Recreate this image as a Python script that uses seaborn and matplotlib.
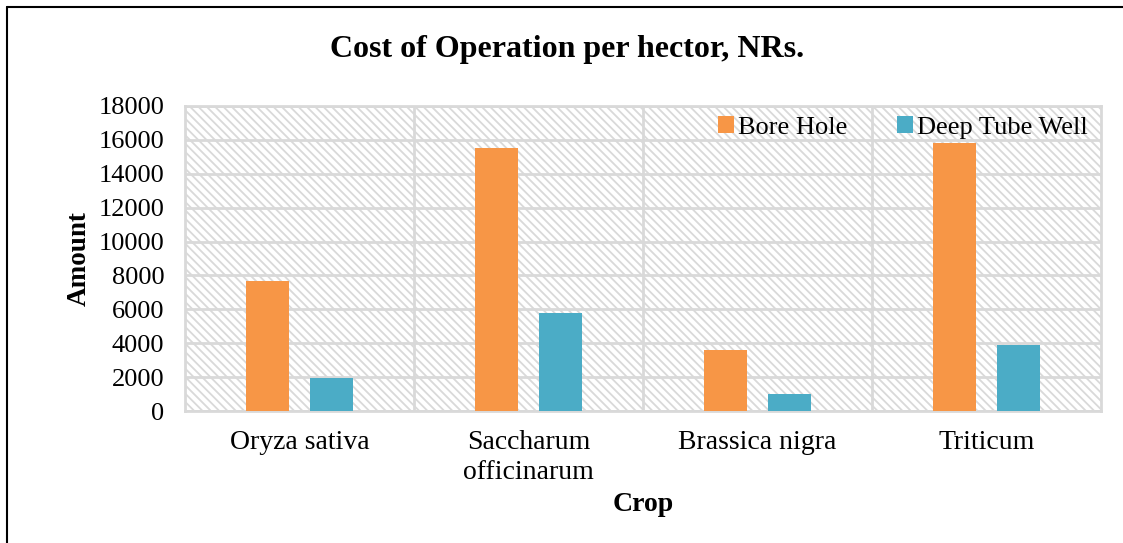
import matplotlib
matplotlib.use("Agg")
import matplotlib.pyplot as plt
import seaborn as sns
import pandas as pd
from matplotlib.patches import Rectangle
from matplotlib.lines import Line2D

crops = ["Oryza sativa", "Saccharum\nofficinarum", "Brassica nigra", "Triticum"]
bore_hole = [7650, 15500, 3600, 15800]
deep_tube_well = [1950, 5800, 1000, 3900]
series = ["Bore Hole", "Deep Tube Well"]
colors = ["#F79646", "#4BACC6"]
yticks = [0, 2000, 4000, 6000, 8000, 10000, 12000, 14000, 16000, 18000]

df = pd.DataFrame({
    "Crop": crops * 2,
    "Amount": bore_hole + deep_tube_well,
    "Series": [series[0]] * len(crops) + [series[1]] * len(crops),
})

sns.set_theme(style="white")
plt.rcParams["font.family"] = ["Liberation Serif", "DejaVu Serif"]
plt.rcParams["text.color"] = "black"
plt.rcParams["axes.labelcolor"] = "black"
plt.rcParams["xtick.color"] = "black"
plt.rcParams["ytick.color"] = "black"
plt.rcParams["hatch.color"] = "#d9d9d9"
plt.rcParams["hatch.linewidth"] = 1.3

fig = plt.figure(figsize=(11.23, 5.43), dpi=100)
ax = fig.add_axes([185 / 1123, 1 - 411 / 543, (1101 - 185) / 1123, (411 - 106) / 543])

# hatched background
ax.add_patch(Rectangle((0, 0), 1, 1, transform=ax.transAxes, facecolor="white",
                       edgecolor="#d9d9d9", hatch="\\\\\\\\", linewidth=0, zorder=0))

sns.barplot(data=df, x="Crop", y="Amount", hue="Series", palette=colors,
            width=0.56, gap=0.32, saturation=1, ax=ax, zorder=3, linewidth=0)

ax.set_ylim(0, 18000)
ax.set_xlim(-0.5, len(crops) - 0.5)
ax.set_yticks(yticks)
ax.set_yticklabels([str(v) for v in yticks], fontsize=19)
ax.tick_params(axis="x", labelsize=20, length=0, pad=14)
ax.tick_params(axis="y", length=0, pad=15)
for lab in ax.get_xticklabels():
    lab.set_linespacing(1.22)

for y in yticks:
    ax.axhline(y, color="#d9d9d9", lw=2, zorder=1)
for x in [0.5, 1.5, 2.5]:
    ax.axvline(x, color="#d9d9d9", lw=2, zorder=1)
for s in ax.spines.values():
    s.set_color("#d9d9d9")
    s.set_linewidth(2)

ax.set_xlabel("Crop", fontsize=20, fontweight="bold", labelpad=5)
ax.set_ylabel("Amount", fontsize=19.5, fontweight="bold", labelpad=5)

leg = ax.legend(loc="upper right", bbox_to_anchor=(1.0, 1.012), ncol=2, frameon=False,
                fontsize=19, handlelength=0.6, handleheight=0.65, handletextpad=0.15,
                columnspacing=1.9, borderaxespad=0.1)

fig.text(0.505, 1 - 50 / 543, "Cost of Operation per hector, NRs.", ha="center", va="center",
         fontsize=23, fontweight="bold")

# figure border (left and top)
fig.add_artist(Line2D([7 / 1123, 7 / 1123], [0, 1 - 7 / 543], transform=fig.transFigure,
                      color="black", lw=1.5))
fig.add_artist(Line2D([7 / 1123, 1], [1 - 7 / 543, 1 - 7 / 543], transform=fig.transFigure,
                      color="black", lw=1.5))

fig.savefig("out.png", dpi=100)
